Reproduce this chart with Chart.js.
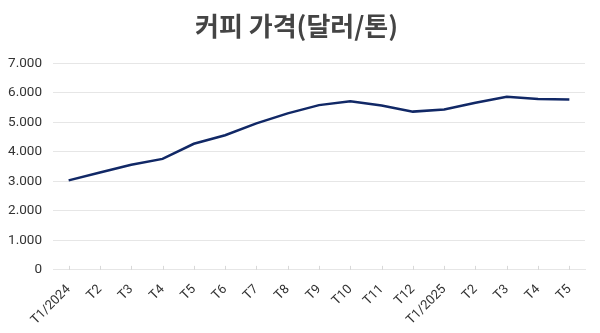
<!DOCTYPE html>
<html>
<head>
<meta charset="utf-8">
<script src="https://cdn.jsdelivr.net/npm/chart.js@4.4.1/dist/chart.umd.min.js"></script>
<style>
html,body{margin:0;padding:0;background:#fff;}
#wrap{width:600px;height:333px;position:relative;}
</style>
</head>
<body>
<div id="wrap"><canvas id="c"></canvas></div>
<script>
const categories = ["T1/2024","T2","T3","T4","T5","T6","T7","T8","T9","T10","T11","T12","T1/2025","T2","T3","T4","T5"];
const prices = [3030,3300,3560,3760,4270,4560,4960,5300,5580,5710,5570,5360,5430,5660,5860,5790,5770];
const yTicks = [0,1000,2000,3000,4000,5000,6000,7000];
const titleText = "커피 가격(달러/톤)";

function fmt(v){ return String(v).replace(/\B(?=(\d{3})+(?!\d))/g, "."); }

new Chart(document.getElementById('c'), {
  type: 'line',
  data: {
    labels: categories,
    datasets: [{
      data: prices,
      borderColor: '#112866',
      borderWidth: 2.5,
      pointRadius: 0,
      tension: 0,
      fill: false
    }]
  },
  options: {
    responsive: true,
    maintainAspectRatio: false,
    animation: false,
    layout: { padding: { left: 8, right: 15, top: 6, bottom: 1 } },
    plugins: {
      legend: { display: false },
      tooltip: { enabled: false },
      title: {
        display: true,
        text: titleText,
        color: '#444444',
        font: { family: "'Noto Sans CJK KR', 'Noto Sans', sans-serif", size: 26, weight: 'bold' },
        padding: { top: 5, bottom: 21 }
      }
    },
    scales: {
      x: {
        offset: true,
        grid: { display: false, drawTicks: true, offset: false },
        border: { color: '#e6e6e6' },
        afterFit: (scale) => { scale.paddingLeft = 0; },
        ticks: {
          color: '#333333',
          font: { family: "Roboto, sans-serif", size: 13 },
          maxRotation: 45, minRotation: 45,
          autoSkip: false,
          padding: 4
        }
      },
      y: {
        min: 0, max: 7000,
        afterBuildTicks: (axis) => { axis.ticks = yTicks.map(v => ({ value: v })); },
        afterFit: (s) => { s.width = 45; },
        grid: { color: '#e6e6e6', drawTicks: false },
        border: { display: false },
        ticks: {
          color: '#333333',
          font: { family: "Roboto, sans-serif", size: 13.5 },
          padding: 11,
          callback: (v) => fmt(v)
        }
      }
    }
  },
  plugins: [{
    id: 'xticks',
    afterDraw(chart) {
      const ctx = chart.ctx, xs = chart.scales.x, ys = chart.scales.y;
      ctx.save();
      ctx.strokeStyle = '#d8d8d8';
      ctx.lineWidth = 1;
      for (let i = 0; i < categories.length; i++) {
        const x = Math.round(xs.getPixelForValue(i)) + 0.5;
        ctx.beginPath();
        ctx.moveTo(x, ys.bottom - 4);
        ctx.lineTo(x, ys.bottom);
        ctx.stroke();
      }
      ctx.restore();
    }
  }]
});
</script>
</body>
</html>
